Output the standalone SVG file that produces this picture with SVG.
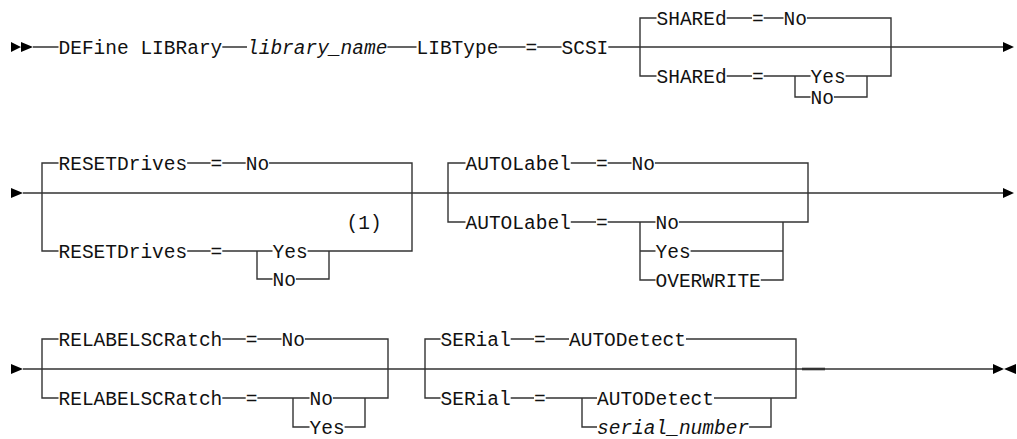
<svg xmlns="http://www.w3.org/2000/svg" width="1017" height="439" viewBox="0 0 1017 439">
<style>
.t{font-family:"Liberation Mono","DejaVu Sans Mono",monospace;font-size:19.5px;fill:#111}
.i{font-style:italic}
.c{fill:none;stroke:#333;stroke-width:1.4}
.a{fill:#000}
</style>
<rect width="1017" height="439" fill="#fff"/>
<g id="connectors">
<path class="c" d="M33,47H58.5M222.3,47H247M387.4,47H416.5M498.4,47H525.5M537.2,47H561.5M608.3,47H1003"/>
<path class="c" d="M656.5,18H640V76H656.5M726.7,18H752M763.7,18H783.5M806.9,18H891V76H845.6M726.7,76H752M763.7,76H810.5M795,76V97H810.5M833.9,97H867V76"/>
<path class="c" d="M23,193H1003M58.5,163H42V251H58.5M187.2,163H210.6M222.3,163H245.7M269.1,163H412V251H307.6M187.2,251H210.6M222.3,251H272.5M257,251V279H272.5M295.9,279H329V251"/>
<path class="c" d="M465.5,163H448V222H465.5M570.8,163H596M607.7,163H631.5M654.9,163H808V222H678.9M570.8,222H596M607.7,222H655.5M640,222V280H655.5M640,251H655.5M690.6,251H783M760.8,280H783V222"/>
<path class="c" d="M23,369H993M58.5,339H42V398H58.5M222.3,339H245.7M257.4,339H281.5M304.9,339H388V398H332.9M222.3,398H245.7M257.4,398H309.5M293,398V427H309.5M344.6,427H365V398"/>
<path class="c" d="M440.5,339H425V398H440.5M510.7,339H534M545.7,339H569M686,339H796V398H714M510.7,398H534M545.7,398H597M582,398V427H597M749.1,427H771V398"/>
<path class="c" d="M802,369H825" style="stroke-width:2.6"/>
<path class="a" d="M11,42L21,47L11,52ZM21,42L33,47L21,52ZM1003,42L1014,47L1003,52Z"/>
<path class="a" d="M11,188L23,193L11,198ZM1003,188L1014,193L1003,198Z"/>
<path class="a" d="M11,364L23,369L11,374ZM993,364L1004,369L993,374ZM1016,364L1004,369L1016,374Z"/>
</g>
<g id="cmd"><text class="t" x="58.5" y="53.5">DEFine LIBRary</text></g>
<g id="libname"><text class="t i" x="247" y="53.5">library_name</text></g>
<g id="libtype"><text class="t" x="416.5" y="53.5">LIBType</text><text class="t" x="525.5" y="53.5">=</text><text class="t" x="561.5" y="53.5">SCSI</text></g>
<g id="shared-default"><text class="t" x="656.5" y="24.5">SHAREd</text><text class="t" x="752" y="24.5">=</text><text class="t" x="783.5" y="24.5">No</text></g>
<g id="shared-opt"><text class="t" x="656.5" y="82.5">SHAREd</text><text class="t" x="752" y="82.5">=</text><text class="t" x="810.5" y="82.5">Yes</text><text class="t" x="810.5" y="103.5">No</text></g>
<g id="reset-default"><text class="t" x="58.5" y="169.5">RESETDrives</text><text class="t" x="210.6" y="169.5">=</text><text class="t" x="245.7" y="169.5">No</text></g>
<g id="reset-opt"><text class="t" x="58.5" y="257.5">RESETDrives</text><text class="t" x="210.6" y="257.5">=</text><text class="t" x="272.5" y="257.5">Yes</text><text class="t" x="272.5" y="285.5">No</text><text class="t" x="346.5" y="228.5">(1)</text></g>
<g id="autolabel-default"><text class="t" x="465.5" y="169.5">AUTOLabel</text><text class="t" x="596" y="169.5">=</text><text class="t" x="631.5" y="169.5">No</text></g>
<g id="autolabel-opt"><text class="t" x="465.5" y="228.5">AUTOLabel</text><text class="t" x="596" y="228.5">=</text><text class="t" x="655.5" y="228.5">No</text><text class="t" x="655.5" y="257.5">Yes</text><text class="t" x="655.5" y="286.5">OVERWRITE</text></g>
<g id="relabel-default"><text class="t" x="58.5" y="345.5">RELABELSCRatch</text><text class="t" x="245.7" y="345.5">=</text><text class="t" x="281.5" y="345.5">No</text></g>
<g id="relabel-opt"><text class="t" x="58.5" y="404.5">RELABELSCRatch</text><text class="t" x="245.7" y="404.5">=</text><text class="t" x="309.5" y="404.5">No</text><text class="t" x="309.5" y="433.5">Yes</text></g>
<g id="serial-default"><text class="t" x="440.5" y="345.5">SERial</text><text class="t" x="534" y="345.5">=</text><text class="t" x="569" y="345.5">AUTODetect</text></g>
<g id="serial-opt"><text class="t" x="440.5" y="404.5">SERial</text><text class="t" x="534" y="404.5">=</text><text class="t" x="597" y="404.5">AUTODetect</text><text class="t i" x="597" y="433.5">serial_number</text></g>
</svg>
